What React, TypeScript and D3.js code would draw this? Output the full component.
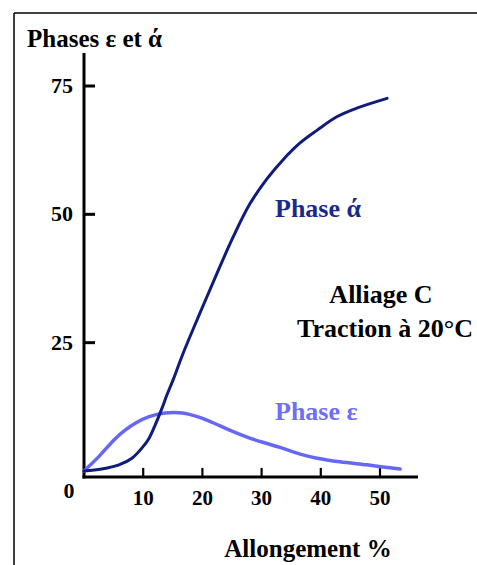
import React from "react";
import * as d3 from "d3";

const xTicks = [10, 20, 30, 40, 50];
const yTicks = [25, 50, 75];

const alphaX = [0, 3.0, 5.9, 8.1, 9.8, 11.0, 12.0, 13.2, 14.0, 15.0, 16.7, 19.6, 22.5, 25.2, 28.0, 30.9, 33.6, 36.5, 39.4, 42.7, 46.1, 51.2];
const alphaY = [0, 0.4, 1.2, 2.5, 4.5, 6.4, 8.9, 12.3, 14.8, 17.6, 22.8, 30.8, 38.6, 45.6, 52.0, 56.9, 60.6, 63.9, 66.4, 69.0, 70.7, 72.6];

const epsX = [0, 2.5, 5.2, 7.0, 8.8, 11.0, 13.7, 16.6, 19.4, 21.8, 24.7, 28.0, 33.1, 36.5, 39.4, 43.2, 47.8, 50.5, 53.4];
const epsY = [0, 2.8, 6.2, 8.0, 9.4, 10.6, 11.3, 11.3, 10.5, 9.4, 7.9, 6.4, 4.6, 3.3, 2.5, 1.8, 1.2, 0.8, 0.4];

const W = 477;
const H = 565;

export default function App() {
  const x = d3.scaleLinear().domain([0, 50]).range([84, 380]);
  const y = d3.scaleLinear().domain([0, 75]).range([471, 86]);
  const line = d3
    .line<[number, number]>()
    .x((d) => x(d[0]))
    .y((d) => y(d[1]))
    .curve(d3.curveCatmullRom.alpha(0.5));
  const alphaPts: [number, number][] = alphaX.map((v, i) => [v, alphaY[i]]);
  const epsPts: [number, number][] = epsX.map((v, i) => [v, epsY[i]]);
  const axisY = y(-1.15);
  const font = "'Liberation Serif', 'Times New Roman', serif";
  const navy = "#0f1c7c";
  const lav = "#6767f5";

  return (
    <svg
      width={W}
      height={H}
      style={{ position: "absolute", left: 0, top: 0, background: "#fff" }}
      fontFamily={font}
      fontWeight="bold"
    >
      {/* frame */}
      <line x1={14} y1={13} x2={W} y2={13} stroke="#000" strokeWidth={1.5} />
      <line x1={14} y1={13} x2={14} y2={H} stroke="#000" strokeWidth={1.5} />

      {/* title */}
      <text x={27} y={47} fontSize={25} fill="#000">
        Phases ε et ά
      </text>

      {/* y axis */}
      <line x1={x(0)} y1={53} x2={x(0)} y2={axisY + 1.5} stroke="#000" strokeWidth={3} />
      {yTicks.map((t) => (
        <g key={"y" + t}>
          <line x1={x(0)} y1={y(t)} x2={x(0) + 11} y2={y(t)} stroke="#000" strokeWidth={3} />
          <text x={73} y={y(t) + 7} fontSize={22} textAnchor="end" fill="#000">
            {t}
          </text>
        </g>
      ))}
      <text x={69} y={498} fontSize={22} textAnchor="middle" fill="#000">
        0
      </text>

      {/* x axis */}
      <line x1={x(0) - 1.5} y1={axisY} x2={418} y2={axisY} stroke="#000" strokeWidth={3} />
      {xTicks.map((t) => (
        <g key={"x" + t}>
          <line x1={x(t)} y1={axisY} x2={x(t)} y2={axisY - 9} stroke="#000" strokeWidth={2.2} />
          <text x={x(t)} y={505} fontSize={21} textAnchor="middle" fill="#000">
            {t}
          </text>
        </g>
      ))}
      <text x={308} y={557} fontSize={25} textAnchor="middle" fill="#000">
        Allongement %
      </text>

      {/* curves */}
      <path d={line(epsPts) ?? ""} fill="none" stroke={lav} strokeWidth={3.5} strokeLinecap="round" />
      <path d={line(alphaPts) ?? ""} fill="none" stroke={navy} strokeWidth={3} strokeLinecap="round" />

      {/* annotations */}
      <text x={275} y={217} fontSize={26} fill="#1a2a8a">
        Phase ά
      </text>
      <text x={275} y={420} fontSize={26} fill="#6e6ef8">
        Phase ε
      </text>
      <text x={381} y={303} fontSize={26} textAnchor="middle" fill="#000">
        Alliage C
      </text>
      <text x={385} y={337} fontSize={26} textAnchor="middle" fill="#000">
        Traction à 20°C
      </text>
    </svg>
  );
}
